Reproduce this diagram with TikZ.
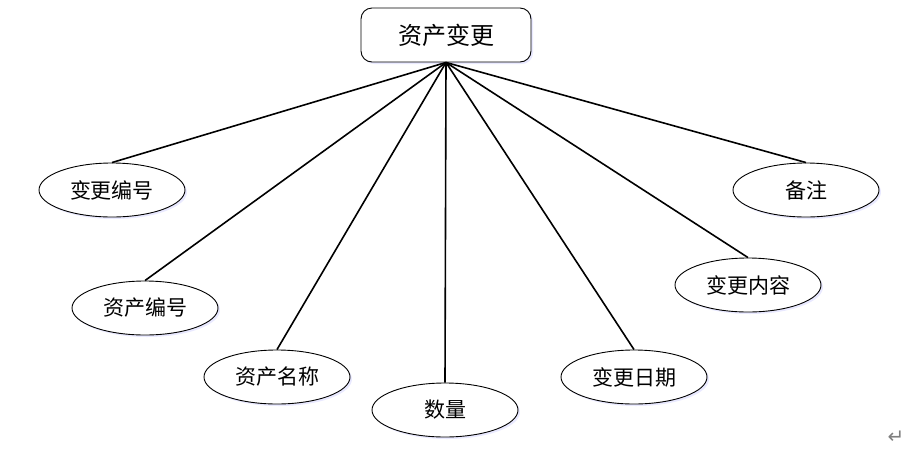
\documentclass[tikz,border=0pt]{standalone}
\usepackage{fontspec}
\newfontfamily\cjk{Noto Sans CJK SC}
\newfontfamily\sym{DejaVu Sans}
\usetikzlibrary{shapes.geometric,shadows}
\tikzset{
  attr/.style={ellipse, draw, line width=0.9pt, fill=white, minimum width=146pt, minimum height=54pt, inner sep=0pt,
    font=\cjk\fontsize{21}{24}\selectfont, drop shadow={shadow xshift=2pt, shadow yshift=-2pt, fill=blue!25, opacity=0.35}},
  entity/.style={rectangle, rounded corners=11pt, draw, line width=0.9pt, fill=white, minimum width=170pt, minimum height=54pt, inner sep=0pt,
    font=\cjk\fontsize{24}{28}\selectfont, drop shadow={shadow xshift=2pt, shadow yshift=-2pt, fill=blue!25, opacity=0.35}},
  link/.style={line width=1.6pt}
}
\begin{document}
\begin{tikzpicture}[x=1pt,y=-1pt]
\useasboundingbox (0,0) rectangle (906,459);
\node[entity] (e) at (446,35) {资产变更};
\node[attr] (a1) at (112,190) {变更编号};
\node[attr] (a2) at (145,308) {资产编号};
\node[attr] (a3) at (277,377) {资产名称};
\node[attr] (a4) at (445,410) {数量};
\node[attr] (a5) at (634,377) {变更日期};
\node[attr] (a6) at (748,285) {变更内容};
\node[attr] (a7) at (806,190) {备注};
\foreach \n in {a1,a2,a3,a4,a5,a6,a7} \draw[link] (e.south) -- (\n.north);
\node[font=\sym\fontsize{20}{22}\selectfont, text=gray] (ret) at (896,437) {↵};
\end{tikzpicture}
\end{document}
